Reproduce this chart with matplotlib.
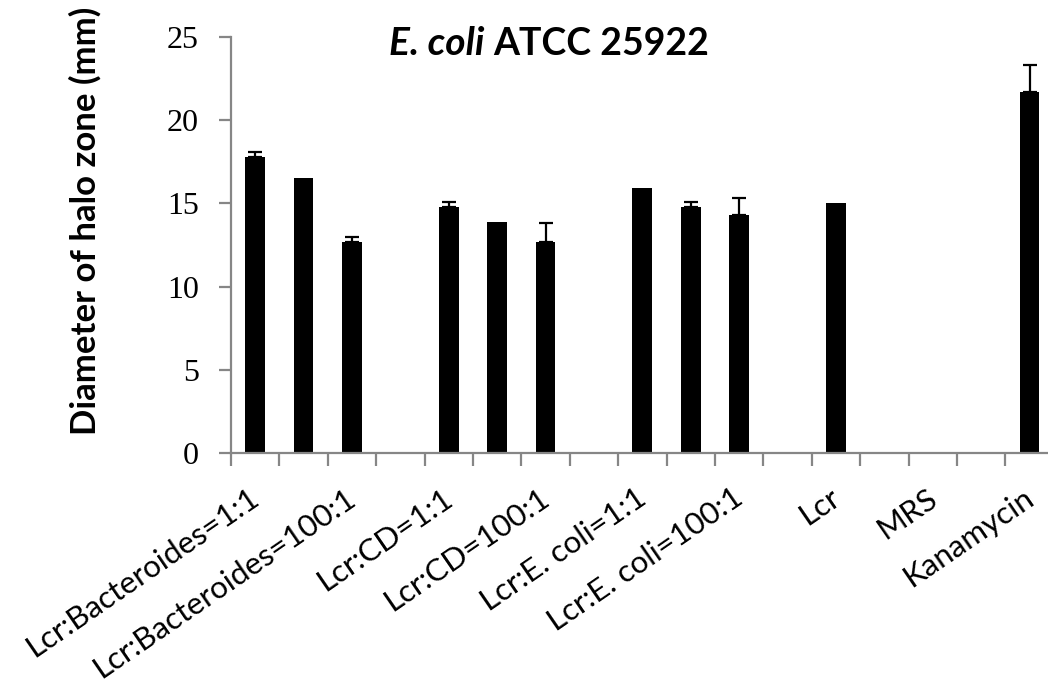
import numpy as np
import matplotlib
matplotlib.use("Agg")
import matplotlib.pyplot as plt
from matplotlib.transforms import ScaledTranslation

# 17 slots as in the source sheet, blank rows left empty
categories = ["Lcr:Bacteroides=1:1", "Lcr:Bacteroides=10:1", "Lcr:Bacteroides=100:1", "",
              "Lcr:CD=1:1", "Lcr:CD=10:1", "Lcr:CD=100:1", "",
              "Lcr:E. coli=1:1", "Lcr:E. coli=10:1", "Lcr:E. coli=100:1", "",
              "Lcr", "", "MRS", "", "Kanamycin"]
halo = [17.8, 16.5, 12.7, np.nan, 14.8, 13.9, 12.7, np.nan,
        15.9, 14.8, 14.3, np.nan, 15.0, np.nan, 0.0, np.nan, 21.7]
halo_err = [0.3, 0.0, 0.3, np.nan, 0.3, 0.0, 1.1, np.nan,
            0.0, 0.3, 1.0, np.nan, 0.0, np.nan, 0.0, np.nan, 1.6]
yticks = [0, 5, 10, 15, 20, 25]

grey = "#868686"
x = np.arange(len(categories))

fig = plt.figure(figsize=(10.48, 6.88), dpi=100)
ax = fig.add_axes([0.2204, 0.3416, 0.7851, 0.6047])

ax.bar(x, halo, width=0.41, color="black", zorder=2)

# only upper error bars, skip the ones that are zero
has_err = np.nan_to_num(halo_err) > 0
xe = x[has_err]
ye = np.array(halo)[has_err]
ee = np.array(halo_err)[has_err]
ax.errorbar(xe, ye, yerr=[np.zeros_like(ee), ee], fmt="none", ecolor="black",
            elinewidth=1.6, capsize=5, capthick=1.6, zorder=3)

ax.set_xlim(-0.5, len(categories) - 0.5)
ax.set_ylim(0, 25)

for s in ["top", "right"]:
    ax.spines[s].set_visible(False)
for s in ["left", "bottom"]:
    ax.spines[s].set_color(grey)
    ax.spines[s].set_linewidth(1.6)

ax.set_yticks(yticks)
ax.set_yticklabels([str(v) for v in yticks], family="Liberation Serif", fontsize=23)
ax.tick_params(axis="y", direction="out", length=9, width=1.6, color=grey, pad=14)

ax.set_xticks(np.arange(-0.5, len(categories), 1.0))
ax.set_xticklabels([])
ax.tick_params(axis="x", which="major", direction="out", length=9.5, width=1.6, color=grey)

ax.set_xticks(x[::2], minor=True)
ax.set_xticklabels(categories[::2], minor=True, family="Lato", fontsize=22.5)
ax.tick_params(axis="x", which="minor", length=0, pad=22)
shift = ScaledTranslation(-7 / 100, 0, fig.dpi_scale_trans)
for lab in ax.get_xticklabels(minor=True):
    lab.set_rotation(34.5)
    lab.set_ha("right")
    lab.set_va("top")
    lab.set_rotation_mode("anchor")
    lab.set_transform(lab.get_transform() + shift)

fig.text(85 / 1048, 1 - 221 / 688, "Diameter of halo zone (mm)", rotation=90,
         ha="center", va="center", family="Lato", fontweight="bold", fontsize=25)

fig.text(484 / 1048, 1 - 55 / 688, "E. coli", ha="right", va="baseline",
         family="Lato", fontweight="bold", fontstyle="italic", fontsize=28)
fig.text(493 / 1048, 1 - 55 / 688, "ATCC 25922", ha="left", va="baseline",
         family="Lato", fontweight="bold", fontsize=27)

fig.savefig("out.png", dpi=100)
